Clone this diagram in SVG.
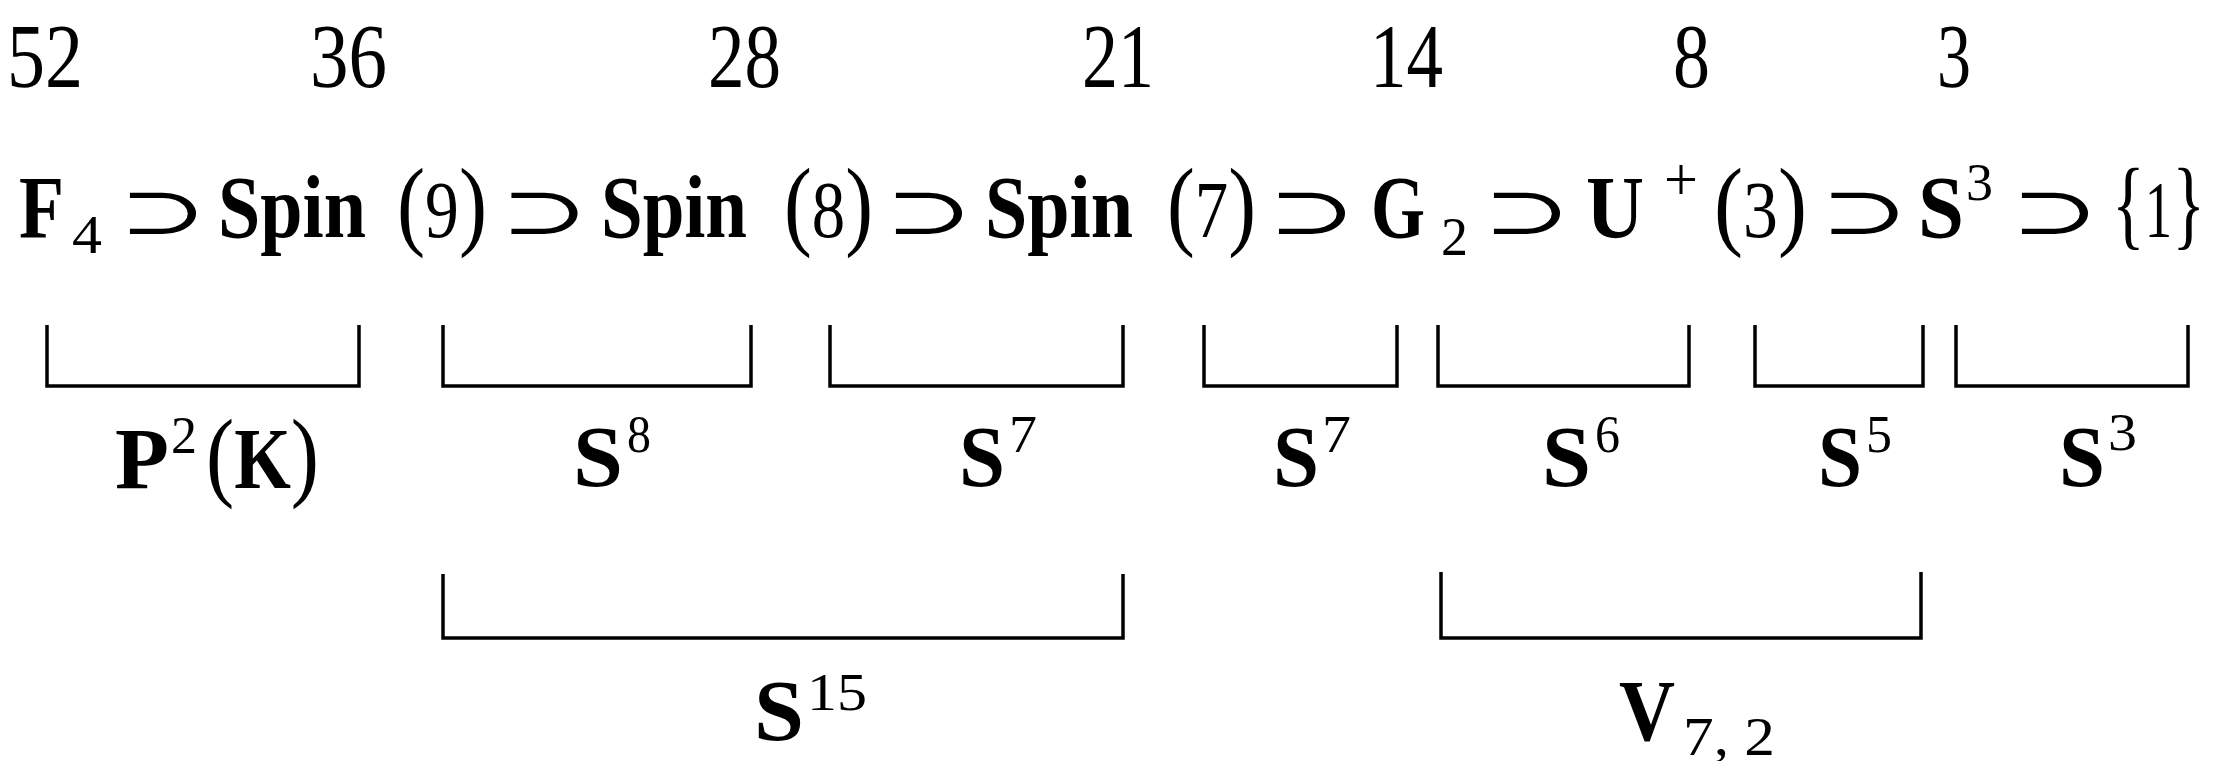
<svg xmlns="http://www.w3.org/2000/svg" width="2221" height="761" viewBox="0 0 2221 761">
<style>
text{font-family:"Liberation Serif","DejaVu Serif",serif;fill:#000}
.num{font-size:92px}
.b{font-weight:bold;font-size:89px}
.r{font-size:80px}
.p{font-size:100px}
.sub{font-size:54px}
.sup{font-size:52px}
.pl{font-size:62px}
.op{font-family:"DejaVu Serif","DejaVu Sans",serif;font-size:66px;text-anchor:middle}
.lb{font-weight:bold;font-size:86px}
.br{fill:none;stroke:#000;stroke-width:3.5}
</style>
<rect width="2221" height="761" fill="#fff"/>
<g id="dims">
<text class="num" x="7" y="87" textLength="76" lengthAdjust="spacingAndGlyphs">52</text>
<text class="num" x="310" y="87" textLength="77" lengthAdjust="spacingAndGlyphs">36</text>
<text class="num" x="708" y="87" textLength="73" lengthAdjust="spacingAndGlyphs">28</text>
<text class="num" x="1082" y="87" textLength="72" lengthAdjust="spacingAndGlyphs">21</text>
<text class="num" x="1370" y="87" textLength="73" lengthAdjust="spacingAndGlyphs">14</text>
<text class="num" x="1673" y="87" textLength="37" lengthAdjust="spacingAndGlyphs">8</text>
<text class="num" x="1937" y="87" textLength="34" lengthAdjust="spacingAndGlyphs">3</text>
</g>
<g id="chain">
<g id="F4">
<text class="b" x="19" y="237" textLength="45" lengthAdjust="spacingAndGlyphs">F</text>
<text class="sub" x="72" y="253" textLength="30" lengthAdjust="spacingAndGlyphs">4</text>
</g>
<text class="op" transform="translate(163 234) scale(1.6 1)">⊃</text>
<g id="Spin9">
<text class="b" x="218" y="237" textLength="148" lengthAdjust="spacingAndGlyphs">Spin</text>
<text x="397" y="237" textLength="90" lengthAdjust="spacingAndGlyphs"><tspan class="p">(</tspan><tspan class="r">9</tspan><tspan class="p">)</tspan></text>
</g>
<text class="op" transform="translate(544.5 234) scale(1.6 1)">⊃</text>
<g id="Spin8">
<text class="b" x="601" y="237" textLength="146" lengthAdjust="spacingAndGlyphs">Spin</text>
<text x="784" y="237" textLength="89" lengthAdjust="spacingAndGlyphs"><tspan class="p">(</tspan><tspan class="r">8</tspan><tspan class="p">)</tspan></text>
</g>
<text class="op" transform="translate(929 234) scale(1.6 1)">⊃</text>
<g id="Spin7">
<text class="b" x="985" y="237" textLength="148" lengthAdjust="spacingAndGlyphs">Spin</text>
<text x="1167" y="237" textLength="89" lengthAdjust="spacingAndGlyphs"><tspan class="p">(</tspan><tspan class="r">7</tspan><tspan class="p">)</tspan></text>
</g>
<text class="op" transform="translate(1312 234) scale(1.6 1)">⊃</text>
<g id="G2">
<text class="b" x="1371" y="237" textLength="54" lengthAdjust="spacingAndGlyphs">G</text>
<text class="sub" x="1441" y="255" textLength="27" lengthAdjust="spacingAndGlyphs">2</text>
</g>
<text class="op" transform="translate(1527 234) scale(1.6 1)">⊃</text>
<g id="U3">
<text class="b" x="1586" y="237" textLength="58" lengthAdjust="spacingAndGlyphs">U</text>
<text class="pl" x="1664" y="200" textLength="34" lengthAdjust="spacingAndGlyphs">+</text>
<text x="1714" y="237" textLength="93" lengthAdjust="spacingAndGlyphs"><tspan class="p">(</tspan><tspan class="r">3</tspan><tspan class="p">)</tspan></text>
</g>
<text class="op" transform="translate(1864.5 234) scale(1.6 1)">⊃</text>
<g id="S3">
<text class="b" x="1918" y="237" textLength="46" lengthAdjust="spacingAndGlyphs">S</text>
<text class="sup" x="1966" y="200" textLength="27" lengthAdjust="spacingAndGlyphs">3</text>
</g>
<text class="op" transform="translate(2055 234) scale(1.6 1)">⊃</text>
<g id="one">
<text x="2112" y="237" textLength="93" lengthAdjust="spacingAndGlyphs"><tspan class="p">{</tspan><tspan class="r">1</tspan><tspan class="p">}</tspan></text>
</g>
</g>
<g id="connectors">
<path class="br" d="M47 325V386H359V325"/>
<path class="br" d="M443 325V386H751V325"/>
<path class="br" d="M830 325V386H1123V325"/>
<path class="br" d="M1204 325V386H1397V325"/>
<path class="br" d="M1438 325V386H1689V325"/>
<path class="br" d="M1755 325V386H1923V325"/>
<path class="br" d="M1956 325V386H2188V325"/>
<path class="br" d="M443 574V638H1123V574"/>
<path class="br" d="M1441 572V638H1921V572"/>
</g>
<g id="fibres">
<g id="P2K">
<text class="lb" x="115" y="488" textLength="54" lengthAdjust="spacingAndGlyphs">P</text>
<text class="sup" x="171" y="453" textLength="26" lengthAdjust="spacingAndGlyphs">2</text>
<text x="206" y="488" textLength="113" lengthAdjust="spacingAndGlyphs"><tspan class="p">(</tspan><tspan class="lb">K</tspan><tspan class="p">)</tspan></text>
</g>
<g id="S8">
<text class="lb" x="573" y="486" textLength="50" lengthAdjust="spacingAndGlyphs">S</text>
<text class="sup" x="627" y="452" textLength="24" lengthAdjust="spacingAndGlyphs">8</text>
</g>
<g id="S7a">
<text class="lb" x="959" y="486" textLength="46" lengthAdjust="spacingAndGlyphs">S</text>
<text class="sup" x="1009" y="452" textLength="28" lengthAdjust="spacingAndGlyphs">7</text>
</g>
<g id="S7b">
<text class="lb" x="1273" y="486" textLength="46" lengthAdjust="spacingAndGlyphs">S</text>
<text class="sup" x="1322" y="452" textLength="29" lengthAdjust="spacingAndGlyphs">7</text>
</g>
<g id="S6">
<text class="lb" x="1542" y="486" textLength="49" lengthAdjust="spacingAndGlyphs">S</text>
<text class="sup" x="1595" y="452" textLength="25" lengthAdjust="spacingAndGlyphs">6</text>
</g>
<g id="S5">
<text class="lb" x="1818" y="486" textLength="44" lengthAdjust="spacingAndGlyphs">S</text>
<text class="sup" x="1866" y="452" textLength="26" lengthAdjust="spacingAndGlyphs">5</text>
</g>
<g id="S3b">
<text class="lb" x="2059" y="486" textLength="46" lengthAdjust="spacingAndGlyphs">S</text>
<text class="sup" x="2108" y="450" textLength="29" lengthAdjust="spacingAndGlyphs">3</text>
</g>
<g id="S15">
<text class="lb" x="754" y="740" textLength="50" lengthAdjust="spacingAndGlyphs">S</text>
<text class="sup" x="807" y="710" textLength="60" lengthAdjust="spacingAndGlyphs">15</text>
</g>
<g id="V72">
<text class="lb" x="1619" y="740" textLength="56" lengthAdjust="spacingAndGlyphs">V</text>
<text class="sub" x="1683" y="755" textLength="92" lengthAdjust="spacingAndGlyphs">7, 2</text>
</g>
</g>
</svg>
